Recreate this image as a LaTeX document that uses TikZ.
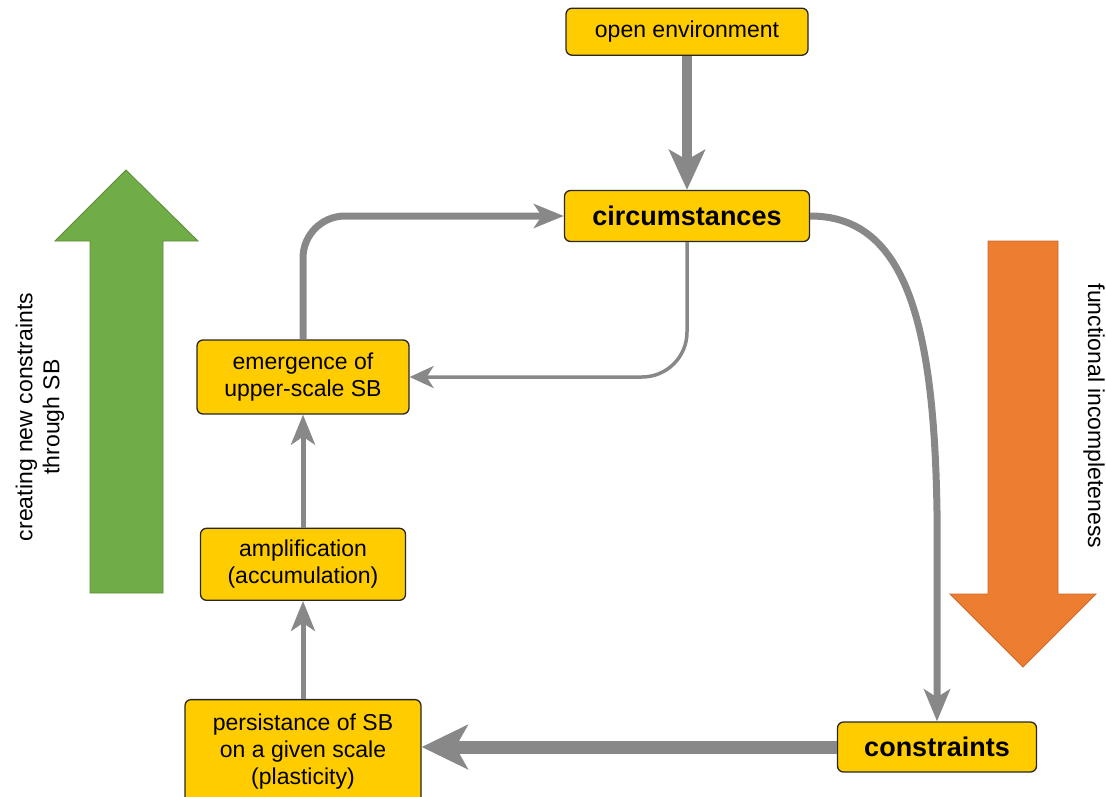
\documentclass[tikz,border=0pt]{standalone}
\usepackage{fontspec}
\setmainfont{Liberation Sans}
\usetikzlibrary{
  arrows.meta,
  calc,
  positioning,
}
\definecolor{boxgold}{RGB}{255, 204, 0}
\definecolor{linegrey}{RGB}{136, 136, 136}
\definecolor{upgreen}{RGB}{112, 173, 71}
\definecolor{downorange}{RGB}{237, 125, 49}
\tikzstyle{box} = [
  rectangle,
  rounded corners=6pt,
  draw=black!85,
  line width=1.3pt,
  fill=boxgold,
  align=center,
  inner sep=2pt,
  font=\fontsize{23}{27}\selectfont,
]
\tikzstyle{arrow} = [
  linegrey,
  line width=5pt,
  -{Stealth[length=30pt,width=24pt,inset=8pt]},
]

\begin{document}
\begin{tikzpicture}[x=1pt,y=1pt]
      \useasboundingbox (0,0) rectangle (1106,-796);

      % big side arrows
      \fill[upgreen,draw=upgreen!80!black,line width=0.8pt] (90,-593) -- (90,-241) -- (55,-241) -- (126,-170) -- (198,-241) -- (163,-241) -- (163,-593) -- cycle;
      \fill[downorange,draw=downorange!85!black,line width=0.8pt] (988,-241) -- (1058,-241) -- (1058,-594) -- (1096,-594) -- (1023,-667) -- (950,-594) -- (988,-594) -- cycle;
      \node[rotate=90,align=center,font=\fontsize{23}{27}\selectfont] (uplabel) at (40,-417) {creating new constraints\\through SB};
      \node[rotate=-90,font=\fontsize{23}{27}\selectfont] (downlabel) at (1094,-416) {functional incompleteness};

      % boxes
      \node[box,minimum width=245pt,minimum height=51pt,font=\fontsize{27}{31}\selectfont\bfseries] (circ) at (687,-216) {circumstances};
      \node[box,minimum width=242pt,minimum height=47pt,above=134pt of circ] (openenv) {open environment};
      \node[box,minimum width=199pt,minimum height=50pt,font=\fontsize{27}{31}\selectfont\bfseries] (cons) at (937,-747) {constraints};

      \node[box,minimum width=212pt,minimum height=74pt] (emerg) at (303,-377) {emergence of\\upper-scale SB};
      \node[box,minimum width=205pt,minimum height=72pt,below=113pt of emerg] (ampl) {amplification\\(accumulation)};
      \node[box,minimum width=236pt,minimum height=104pt,below=98pt of ampl] (persist) {persistance of SB\\on a given scale\\(plasticity)};

      % connectors
      \draw[arrow,line width=10pt,-{Stealth[length=40pt,width=36pt,inset=10pt]}] (openenv) -- (circ);
      \draw[arrow,line width=7pt,-{Stealth[length=32pt,width=26pt,inset=8pt]}] (circ.east) .. controls +(95,0) and +(-3,190) .. ($(cons.north)+(0,210)$) -- (cons.north);
      \draw[arrow,line width=13pt,-{Stealth[length=46pt,width=44pt,inset=12pt]}] (cons.west) -- (cons.west -| persist.east);
      \draw[arrow] (persist) -- (ampl);
      \draw[arrow] (ampl) -- (emerg);
      \draw[arrow,line width=7pt,rounded corners=42pt,-{Stealth[length=30pt,width=24pt,inset=8pt]}] (emerg.north) |- (circ.west);
      \draw[arrow,line width=3.5pt,rounded corners=45pt,-{Stealth[length=24pt,width=22pt,inset=7pt]}] (circ.south) |- (emerg.east);
\end{tikzpicture}
\end{document}
